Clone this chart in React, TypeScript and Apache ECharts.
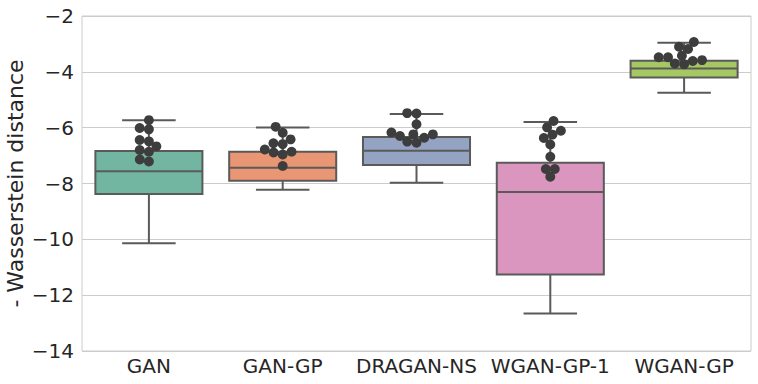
import React, { useEffect, useRef } from "react";
import * as echarts from "echarts";

const categories = ["GAN", "GAN-GP", "DRAGAN-NS", "WGAN-GP-1", "WGAN-GP"];

// [lower whisker, Q1, median, Q3, upper whisker]
const boxStats = [
  [-10.14, -8.38, -7.56, -6.84, -5.73],
  [-8.22, -7.9, -7.44, -6.86, -5.99],
  [-7.97, -7.34, -6.83, -6.33, -5.51],
  [-12.66, -11.26, -8.3, -7.26, -5.8],
  [-4.75, -4.2, -3.88, -3.6, -2.96],
];

const ganPoints = [-5.73, -6.01, -6.06, -6.44, -6.49, -6.67, -6.8, -6.86, -7.14, -7.21];
const ganGpPoints = [-5.97, -6.18, -6.42, -6.56, -6.59, -6.78, -6.86, -6.89, -6.96, -7.37];
const draganNsPoints = [-5.48, -5.49, -5.88, -6.17, -6.24, -6.24, -6.3, -6.36, -6.5, -6.54];
const wganGp1Points = [-5.76, -5.99, -6.11, -6.25, -6.37, -6.6, -7.04, -7.48, -7.48, -7.76];
const wganGpPoints = [-2.93, -3.1, -3.18, -3.42, -3.48, -3.48, -3.58, -3.61, -3.7, -3.73];

const pointSets = [ganPoints, ganGpPoints, draganNsPoints, wganGp1Points, wganGpPoints];

const boxColors = ["#72b6a1", "#e99675", "#95a3c3", "#db96c0", "#a5c862"];

const yTicks = { min: -14, max: -2, interval: 2 };

const W = 758;
const H = 384;
const GRID = { left: 82, right: 7, top: 16, bottom: 33 };
const POINT_R = 4.45;

// seaborn-like beeswarm layout, computed in pixel space, returned in category units
function swarmOffsets(values: number[], pxPerX: number, pxPerY: number, r: number) {
  const order = values.map((_, i) => i).sort((a, b) => values[a] - values[b]);
  const placed: { x: number; y: number }[] = [];
  const out: number[] = new Array(values.length).fill(0);
  for (const i of order) {
    const y = values[i] * pxPerY;
    const nb = placed.filter((p) => Math.abs(p.y - y) < 2 * r);
    const cands: number[] = [0];
    let leftFirst = true;
    for (const n of nb) {
      const dy = y - n.y;
      const dx = Math.sqrt(Math.max(4 * r * r - dy * dy, 0)) * 1.05;
      const cl = n.x - dx;
      const cr = n.x + dx;
      if (leftFirst) cands.push(cl, cr);
      else cands.push(cr, cl);
      leftFirst = !leftFirst;
    }
    const idx = cands
      .map((_, k) => k)
      .sort((a, b) => Math.abs(cands[a]) - Math.abs(cands[b]) || a - b);
    let chosen = 0;
    for (const k of idx) {
      const c = cands[k];
      const ok = nb.every((n) => (n.x - c) ** 2 + (n.y - y) ** 2 >= 4 * r * r - 1e-6);
      if (ok) {
        chosen = c;
        break;
      }
    }
    placed.push({ x: chosen, y });
    out[i] = chosen / pxPerX;
  }
  return out;
}

export default function App() {
  const ref = useRef<HTMLDivElement>(null);
  useEffect(() => {
    if (!ref.current) return;
    const chart = echarts.init(ref.current, undefined, { renderer: "svg" });
    const plotW = W - GRID.left - GRID.right;
    const plotH = H - GRID.top - GRID.bottom;
    const pxPerX = plotW / categories.length;
    const pxPerY = plotH / (yTicks.max - yTicks.min);

    const scatterData: number[][] = [];
    pointSets.forEach((vals, ci) => {
      const offs = swarmOffsets(vals, pxPerX, pxPerY, POINT_R);
      vals.forEach((v, k) => scatterData.push([ci + offs[k], v]));
    });

    const boxData = boxStats.map((s, i) => [i, ...s]);
    const font = "DejaVu Sans";
    const textColor = "#262626";
    const edge = "#5a5a5a";

    chart.setOption({
      animation: false,
      grid: {
        left: GRID.left,
        right: GRID.right,
        top: GRID.top,
        bottom: GRID.bottom,
        containLabel: false,
        outerBoundsMode: "none",
        show: true,
        borderColor: "#cccccc",
        borderWidth: 1,
      },
      xAxis: [
        {
          type: "category",
          data: categories,
          boundaryGap: true,
          axisLine: { show: false },
          axisTick: { show: false },
          splitLine: { show: false },
          axisLabel: {
            fontFamily: font,
            fontSize: 20,
            color: textColor,
            margin: 5,
            interval: 0,
            hideOverlap: false,
          },
        },
        {
          type: "value",
          min: -0.5,
          max: categories.length - 0.5,
          show: false,
        },
      ],
      yAxis: {
        type: "value",
        min: yTicks.min,
        max: yTicks.max,
        interval: yTicks.interval,
        axisLine: { show: false },
        axisTick: { show: false },
        splitLine: { show: true, lineStyle: { color: "#cccccc", width: 1 } },
        axisLabel: {
          fontFamily: font,
          fontSize: 20,
          color: textColor,
          margin: 8,
          formatter: (v: number) => (v < 0 ? "\u2212" + Math.abs(v) : String(v)),
        },
        name: "- Wasserstein distance",
        nameLocation: "middle",
        nameGap: 56,
        nameMoveOverlap: false,
        nameTextStyle: { fontFamily: font, fontSize: 22, color: textColor },
      },
      series: [
        {
          type: "custom",
          xAxisIndex: 0,
          yAxisIndex: 0,
          data: boxData,
          encode: { x: 0, y: [1, 2, 3, 4, 5] },
          renderItem: (params: any, api: any) => {
            const ci = api.value(0);
            const lo = api.coord([ci, api.value(1)]);
            const q1 = api.coord([ci, api.value(2)]);
            const med = api.coord([ci, api.value(3)]);
            const q3 = api.coord([ci, api.value(4)]);
            const hi = api.coord([ci, api.value(5)]);
            const bw = api.size([1, 0])[0] * 0.8;
            const cx = lo[0];
            const cap = bw / 4;
            const ls = { stroke: edge, lineWidth: 2, fill: null };
            return {
              type: "group",
              children: [
                { type: "line", shape: { x1: cx, y1: q3[1], x2: cx, y2: hi[1] }, style: ls },
                { type: "line", shape: { x1: cx, y1: q1[1], x2: cx, y2: lo[1] }, style: ls },
                { type: "line", shape: { x1: cx - cap, y1: hi[1], x2: cx + cap, y2: hi[1] }, style: ls },
                { type: "line", shape: { x1: cx - cap, y1: lo[1], x2: cx + cap, y2: lo[1] }, style: ls },
                {
                  type: "rect",
                  shape: { x: cx - bw / 2, y: q3[1], width: bw, height: q1[1] - q3[1] },
                  style: { fill: boxColors[ci], stroke: edge, lineWidth: 2 },
                },
                { type: "line", shape: { x1: cx - bw / 2, y1: med[1], x2: cx + bw / 2, y2: med[1] }, style: ls },
              ],
            };
          },
          z: 2,
        },
        {
          type: "scatter",
          xAxisIndex: 1,
          yAxisIndex: 0,
          data: scatterData,
          symbol: "circle",
          symbolSize: POINT_R * 2 + 1,
          itemStyle: { color: "#3d3d3d", opacity: 1 },
          z: 3,
        },
      ],
    });
    return () => chart.dispose();
  }, []);
  return (
    <div
      ref={ref}
      style={{ position: "fixed", left: 0, top: 0, width: W, height: H, background: "#ffffff" }}
    />
  );
}
